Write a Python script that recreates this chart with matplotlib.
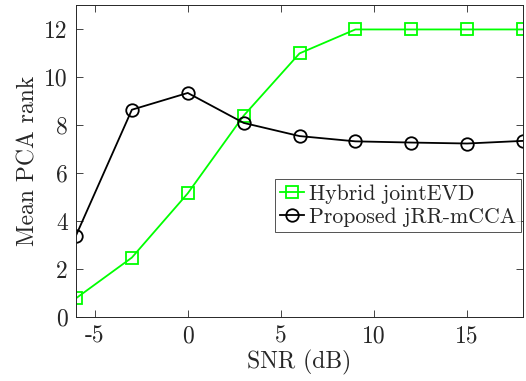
import matplotlib
matplotlib.use("Agg")
import matplotlib.pyplot as plt

snr = [-6, -3, 0, 3, 6, 9, 12, 15, 18]
hybrid = [0.78, 2.48, 5.16, 8.4, 11.0, 12.0, 12.0, 12.0, 12.0]
proposed = [3.4, 8.65, 9.35, 8.1, 7.55, 7.33, 7.28, 7.24, 7.35]
xticks = [-5, 0, 5, 10, 15]
yticks = [0, 2, 4, 6, 8, 10, 12]

plt.rcParams['font.family'] = ['cmr10', 'DejaVu Serif']
plt.rcParams['axes.formatter.use_mathtext'] = True
tc = '#262626'

fig = plt.figure(figsize=(5.26, 3.81), dpi=100)
ax = fig.add_axes([0.1445, 0.168, 0.8498, 0.8176])

ax.plot(snr, hybrid, color='#00ff00', lw=1.3, marker='s', ms=8,
        mfc='none', mec='#00ff00', mew=1.3, label='Hybrid jointEVD')
ax.plot(snr, proposed, color='black', lw=1.3, marker='o', ms=9,
        mfc='none', mec='black', mew=1.3, label='Proposed jRR-mCCA')

ax.set_xlim(-6, 18)
ax.set_ylim(0, 13)
ax.set_xticks(xticks)
ax.set_yticks(yticks)
ax.set_xticklabels([str(t) for t in xticks])
ax.set_yticklabels([str(t) for t in yticks])
ax.tick_params(direction='in', top=True, right=True, labelsize=17,
               colors=tc, length=5, width=0.6, pad=6)
for s in ax.spines.values():
    s.set_color(tc)
    s.set_linewidth(0.7)
ax.set_xlabel('SNR (dB)', fontsize=17, color=tc, labelpad=2)
ax.set_ylabel('Mean PCA rank', fontsize=17, color=tc, labelpad=3)

leg = ax.legend(loc='upper left', bbox_to_anchor=(0.445, 0.443),
                fontsize=15.7, frameon=True, fancybox=False,
                edgecolor=tc, handlelength=1.1, handletextpad=0.2,
                borderpad=0.25, labelspacing=0.15, borderaxespad=0)
leg.get_frame().set_linewidth(0.7)
for t in leg.get_texts():
    t.set_color(tc)

fig.savefig('out.png', dpi=100)
